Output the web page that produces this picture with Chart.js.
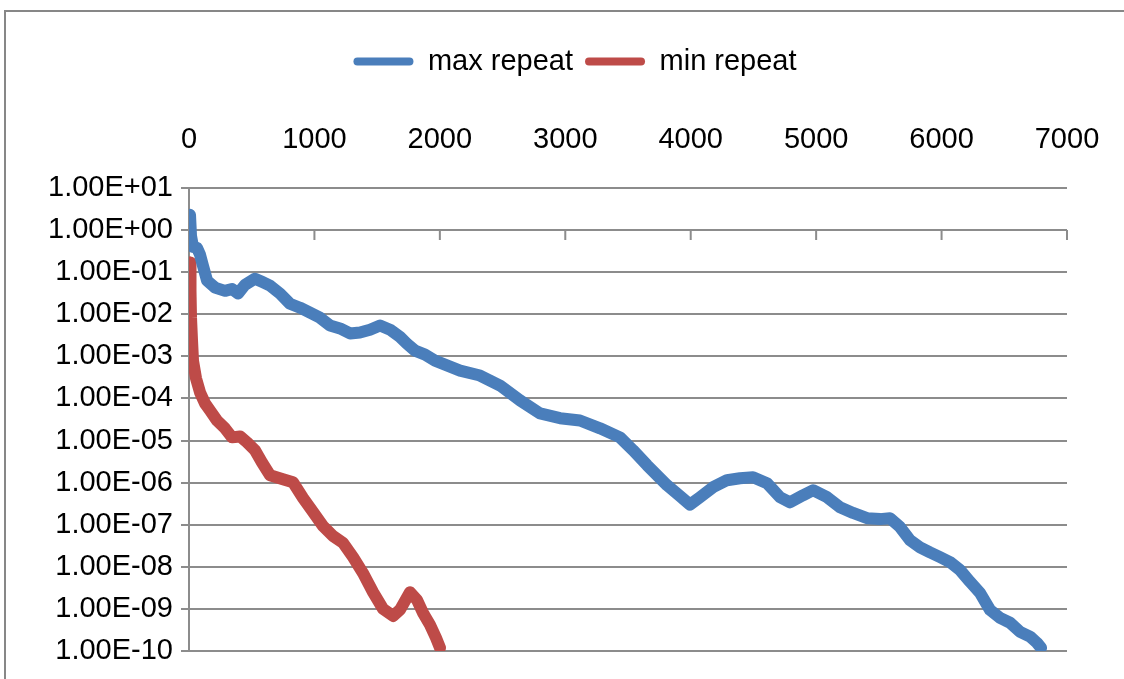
<!DOCTYPE html>
<html>
<head>
    <title>max / min repeat</title>
    <script src="https://cdn.jsdelivr.net/npm/chart.js"></script>
    <style>
        html, body { margin: 0; padding: 0; background: #fff; }
        #wrap { width: 1124px; height: 679px; }
    </style>
</head>
<body>
<div id="wrap"><canvas id="repeatChart"></canvas></div>
<script>
    // values (x = step, y = residual)
    const maxX = [8, 16, 32, 64, 88, 112, 144, 207, 287, 343, 391, 446, 526, 582, 646, 726, 805, 885, 965, 1044,
        1124, 1204, 1284, 1363, 1443, 1523, 1603, 1682, 1738, 1802, 1882, 1961, 2001, 2161, 2320, 2480, 2639, 2799, 2958, 3117,
        3277, 3436, 3540, 3652, 3811, 3915, 3994, 4074, 4178, 4289, 4393, 4497, 4608, 4712, 4792, 4895, 4975, 5087, 5190, 5294,
        5406, 5509, 5589, 5669, 5748, 5828, 5908, 5988, 6067, 6147, 6227, 6307, 6386, 6466, 6546, 6626, 6705, 6761, 6793];
    const maxY = [2.3, 0.73, 0.40, 0.38, 0.26, 0.14, 0.063, 0.043, 0.036, 0.04, 0.031, 0.050, 0.070, 0.059, 0.048, 0.031, 0.0178, 0.0143, 0.0109, 0.0083,
        0.0054, 0.0046, 0.0035, 0.0037, 0.0043, 0.0054, 0.0043, 0.0029, 0.0020, 0.00137, 0.0011, 0.00079, 0.00071, 0.00046, 0.00035, 0.000203, 9.0e-5, 4.4e-5, 3.4e-5, 3.0e-5,
        1.95e-5, 1.19e-5, 5.9e-6, 2.6e-6, 8.7e-7, 4.8e-7, 3.0e-7, 4.5e-7, 7.8e-7, 1.14e-6, 1.27e-6, 1.34e-6, 9.7e-7, 4.5e-7, 3.4e-7, 5.0e-7, 6.6e-7, 4.5e-7, 2.6e-7, 1.9e-7,
        1.43e-7, 1.36e-7, 1.43e-7, 8.8e-8, 4.3e-8, 2.9e-8, 2.2e-8, 1.7e-8, 1.3e-8, 8.4e-9, 4.4e-9, 2.4e-9, 9.5e-10, 6.1e-10, 4.7e-10, 2.85e-10, 2.2e-10, 1.56e-10, 1.19e-10];

    const minX = [8, 12, 16, 24, 32, 56, 88, 128, 167, 223, 287, 343, 407, 462, 526, 582, 646, 749, 829, 909,
        989, 1068, 1148, 1228, 1308, 1387, 1467, 1547, 1627, 1682, 1762, 1818, 1866, 1921, 1969, 2001];
    const minY = [0.17, 0.036, 0.0083, 0.0024, 7.9e-4, 3.0e-4, 1.39e-4, 7.6e-5, 5.2e-5, 3.0e-5, 1.95e-5, 1.19e-5, 1.25e-5, 9.1e-6, 5.9e-6, 3.0e-6, 1.5e-6, 1.2e-6, 1.02e-6, 4.3e-7,
        2.0e-7, 9.3e-8, 5.4e-8, 3.7e-8, 1.7e-8, 7.1e-9, 2.5e-9, 1.0e-9, 6.8e-10, 9.5e-10, 2.5e-9, 1.63e-9, 8.0e-10, 4.2e-10, 2.06e-10, 1.19e-10];

    const xTicks = [0, 1000, 2000, 3000, 4000, 5000, 6000, 7000];
    const yTicks = [1e1, 1e0, 1e-1, 1e-2, 1e-3, 1e-4, 1e-5, 1e-6, 1e-7, 1e-8, 1e-9, 1e-10];

    const gridGray = '#8c8c8c';
    const fontFamily = "'Liberation Sans', Arial, sans-serif";

    function fmtExp(v) {
        const parts = v.toExponential(2).split('e');
        const sign = parts[1][0];
        const digits = parts[1].slice(1).padStart(2, '0');
        return parts[0] + 'E' + sign + digits;
    }

    // outer frame + x axis line crossing at y = 1 with tick marks
    const excelBits = {
        id: 'excelBits',
        beforeDraw(chart) {
            const ctx = chart.ctx;
            ctx.save();
            ctx.strokeStyle = '#878787';
            ctx.lineWidth = 2;
            ctx.strokeRect(5, 11, 1300, 900);
            ctx.restore();
        },
        beforeDatasetsDraw(chart) {
            const ctx = chart.ctx;
            const xs = chart.scales.x, ys = chart.scales.y;
            const yAxis = ys.getPixelForValue(1);
            ctx.save();
            ctx.strokeStyle = gridGray;
            ctx.lineWidth = 2;
            ctx.beginPath();
            xTicks.forEach(t => {
                const px = xs.getPixelForValue(t);
                ctx.moveTo(px, yAxis);
                ctx.lineTo(px, yAxis + 10);
            });
            ctx.stroke();
            ctx.restore();
        }
    };

    new Chart(document.getElementById('repeatChart'), {
        type: 'line',
        data: {
            datasets: [
                {
                    label: 'max repeat',
                    data: maxX.map((x, i) => ({ x: x, y: maxY[i] })),
                    borderColor: '#4a7ebb',
                    backgroundColor: '#4a7ebb',
                    borderWidth: 12,
                    pointRadius: 0,
                    borderCapStyle: 'round',
                    borderJoinStyle: 'round',
                    tension: 0
                },
                {
                    label: 'min repeat',
                    data: minX.map((x, i) => ({ x: x, y: minY[i] })),
                    borderColor: '#be4b48',
                    backgroundColor: '#be4b48',
                    borderWidth: 12,
                    pointRadius: 0,
                    borderCapStyle: 'round',
                    borderJoinStyle: 'round',
                    tension: 0
                }
            ]
        },
        options: {
            responsive: true,
            maintainAspectRatio: false,
            animation: false,
            layout: { padding: { left: 26, right: 0, top: 35, bottom: 28 } },
            plugins: {
                tooltip: { enabled: false },
                legend: {
                    position: 'top',
                    labels: {
                        font: { family: fontFamily, size: 29 },
                        color: '#000',
                        boxWidth: 60,
                        boxHeight: 8,
                        padding: 12,
                        useBorderRadius: true,
                        borderRadius: 4,
                        generateLabels(chart) {
                            const items = Chart.defaults.plugins.legend.labels.generateLabels(chart);
                            items.forEach(it => { it.lineWidth = 0; it.fillStyle = it.strokeStyle; });
                            return items;
                        }
                    }
                }
            },
            scales: {
                x: {
                    type: 'linear',
                    position: 'top',
                    min: 0,
                    max: 7000,
                    afterBuildTicks(s) { s.ticks = xTicks.map(v => ({ value: v })); },
                    afterFit(s) {
                        s.height = 102;
                        s.paddingLeft = 0;
                        s.paddingRight = 0;
                    },
                    grid: { display: false, drawTicks: false },
                    border: { display: false },
                    ticks: {
                        font: { family: fontFamily, size: 29 },
                        color: '#000',
                        padding: 31,
                        maxRotation: 0,
                        autoSkip: false,
                        callback: v => String(v)
                    }
                },
                y: {
                    type: 'logarithmic',
                    min: 1e-10,
                    max: 10,
                    afterBuildTicks(s) { s.ticks = yTicks.map(v => ({ value: v })); },
                    afterFit(s) { s.width = 163; },
                    grid: { color: gridGray, lineWidth: 2, tickLength: 8 },
                    border: { display: true, color: gridGray, width: 2 },
                    ticks: {
                        font: { family: fontFamily, size: 29 },
                        color: '#000',
                        padding: 8,
                        autoSkip: false,
                        callback: v => fmtExp(v)
                    }
                },
                // empty right-hand box that keeps the plot clear of the frame's right side
                spacer: {
                    type: 'linear',
                    position: 'right',
                    display: true,
                    afterFit(s) { s.width = 57; },
                    grid: { display: false, drawTicks: false },
                    border: { display: false },
                    ticks: { display: false }
                }
            }
        },
        plugins: [excelBits]
    });
</script>
</body>
</html>
